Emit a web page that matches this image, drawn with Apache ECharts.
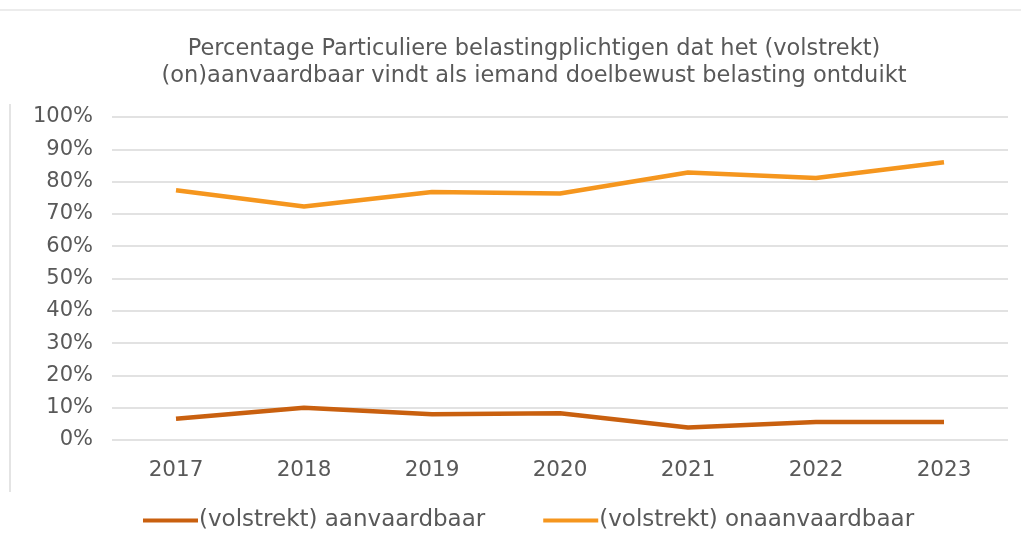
<!DOCTYPE html>
<html>
<head>
<meta charset="utf-8">
<script src="https://cdn.jsdelivr.net/npm/echarts@6/dist/echarts.min.js"></script>
<style>
    html, body { margin:0; padding:0; background:#fff; }
    #chart { width:1021px; height:549px; }
</style>
</head>
<body>
<div id="chart"></div>
<script>
/* data */
const years = ["2017", "2018", "2019", "2020", "2021", "2022", "2023"];
const aanvaardbaar = [6.6, 10.0, 8.0, 8.3, 3.9, 5.6, 5.6];
const onaanvaardbaar = [77.3, 72.3, 76.8, 76.3, 82.8, 81.1, 86.0];
const seriesNames = ["(volstrekt) aanvaardbaar", "(volstrekt) onaanvaardbaar"];
const chartTitle = "Percentage Particuliere belastingplichtigen dat het (volstrekt)\n(on)aanvaardbaar vindt als iemand doelbewust belasting ontduikt";

const textColor = "#595959";
const font = "DejaVu Sans";

const chart = echarts.init(document.getElementById("chart"));

chart.setOption({

    animation:false,

    title:{
        text:chartTitle,
        left:529,
        textAlign:"center",
        top:31,
        textStyle:{
            color:textColor,
            fontFamily:font,
            fontWeight:"normal",
            fontSize:22.5,
            lineHeight:27
        }
    },

    /* cropped frame lines */
    graphic:[
        {
            type:"line",
            shape:{ x1:10, y1:104, x2:10, y2:492 },
            style:{ stroke:"#e4e4e4", lineWidth:2 }
        },
        {
            type:"line",
            shape:{ x1:0, y1:10, x2:1021, y2:10 },
            style:{ stroke:"#ececec", lineWidth:2 }
        }
    ],

    legend:{
        bottom:12,
        left:138,
        itemGap:58,
        itemWidth:55,
        itemHeight:4,
        icon:"rect",
        textStyle:{
            color:textColor,
            fontFamily:font,
            fontSize:23,
            padding:[0,0,0,-4]
        }
    },

    grid:{
        left:112,
        right:13,
        top:117,
        bottom:109
    },

    xAxis:{
        type:"category",
        data:years,
        boundaryGap:true,
        axisLine:{ show:false },
        axisTick:{ show:false },
        axisLabel:{
            color:textColor,
            fontFamily:font,
            fontSize:21.5,
            margin:19
        }
    },

    yAxis:{
        type:"value",
        min:0,
        max:100,
        interval:10,
        axisLabel:{
            formatter:"{value}%",
            color:textColor,
            fontFamily:font,
            fontSize:21,
            margin:19
        },
        splitLine:{
            lineStyle:{ color:"#d9d9d9", width:1.5 }
        }
    },

    series:[
        {
            name:seriesNames[0],
            type:"line",
            data:aanvaardbaar,
            symbol:"none",
            color:"#c9600f",
            lineStyle:{ width:4.5, color:"#c9600f" }
        },
        {
            name:seriesNames[1],
            type:"line",
            data:onaanvaardbaar,
            symbol:"none",
            color:"#f5961e",
            lineStyle:{ width:4.5, color:"#f5961e" }
        }
    ]
});
</script>
</body>
</html>
